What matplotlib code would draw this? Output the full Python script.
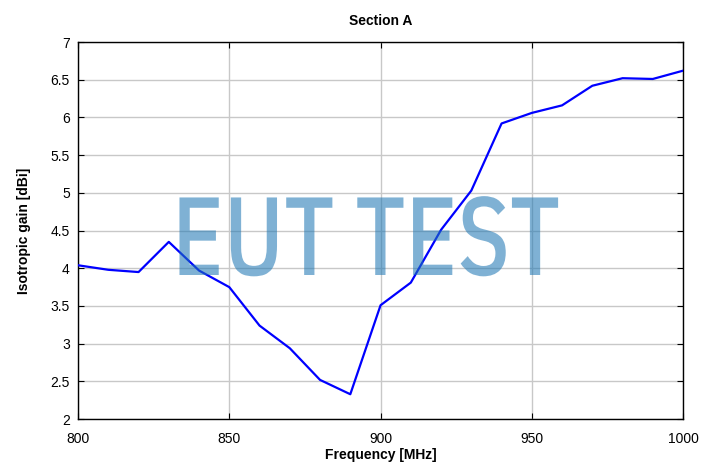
import matplotlib
matplotlib.use("Agg")
import matplotlib.pyplot as plt
from matplotlib.patheffects import AbstractPathEffect
from matplotlib.transforms import Affine2D

freq = [800, 810, 820, 830, 840, 850, 860, 870, 880, 890, 900,
        910, 920, 930, 940, 950, 960, 970, 980, 990, 1000]
gain = [4.04, 3.98, 3.95, 4.35, 3.97, 3.75, 3.24, 2.94, 2.52, 2.33, 3.51,
        3.81, 4.51, 5.03, 5.92, 6.06, 6.16, 6.42, 6.52, 6.51, 6.62]
xticks = [800, 850, 900, 950, 1000]
yticks = [2, 2.5, 3, 3.5, 4, 4.5, 5, 5.5, 6, 6.5, 7]
ytick_labels = ["2", "2.5", "3", "3.5", "4", "4.5", "5", "5.5", "6", "6.5", "7"]


# squeeze text horizontally so the watermark fits its box
class Squeeze(AbstractPathEffect):
    def __init__(self, sx):
        super().__init__()
        self.sx = sx

    def draw_path(self, renderer, gc, tpath, affine, rgbFace=None):
        renderer.draw_path(gc, tpath, Affine2D().scale(self.sx, 1.0) + affine, rgbFace)


plt.rcParams['font.family'] = ['Liberation Sans', 'DejaVu Sans']

fig = plt.figure(figsize=(7.16, 4.72), dpi=100)
ax = fig.add_axes([0.109, 0.112, 0.845, 0.799])

ax.plot(freq, gain, color="#0000ff", linewidth=1.6, zorder=3)
ax.set_xlim(800, 1000)
ax.set_ylim(2, 7)
ax.set_xticks(xticks)
ax.set_yticks(yticks)
ax.set_yticklabels(ytick_labels)
ax.grid(True, color="#c8c8c8", linewidth=1.0)
ax.set_axisbelow(True)
ax.tick_params(direction="in", top=True, right=True, labelsize=10, length=4)
ax.tick_params(axis="x", pad=9)
ax.tick_params(axis="y", pad=6)
for s in ax.spines.values():
    s.set_linewidth(1.0)

ax.set_title("Section A", fontsize=10, fontweight="bold", pad=12)
ax.set_xlabel("Frequency [MHz]", fontsize=10, fontweight="bold", labelpad=2)
ax.set_ylabel("Isotropic gain [dBi]", fontsize=10, fontweight="bold", labelpad=14)

# watermark
wm = fig.text(172 / 716, 1 - 275 / 472, "EUT TEST", ha="left", va="baseline",
              fontsize=80, fontweight=500,
              family=["IBM Plex Sans Condensed", "DejaVu Sans"],
              color="#1f77b4", alpha=0.57)
fig.canvas.draw()
w = wm.get_window_extent().width
wm.set_path_effects([Squeeze(388.0 / w)])
wm.set_zorder(1.5)
ax.set_zorder(1)
ax.patch.set_visible(False)

fig.savefig("out.png", dpi=100)
